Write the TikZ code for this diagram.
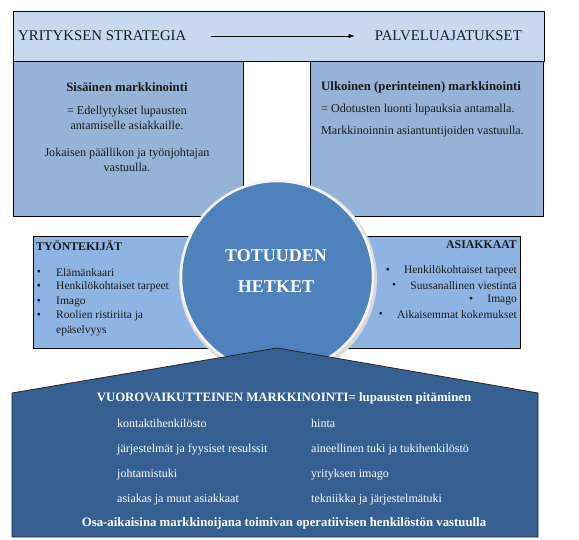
\documentclass[tikz,border=0pt]{standalone}
\usepackage{fontspec}
\setmainfont{Liberation Serif}
\usetikzlibrary{arrows.meta}
\definecolor{topfill}{HTML}{C6D9F1}
\definecolor{upfill}{HTML}{95B3D7}
\definecolor{midfill}{HTML}{8EB4E3}
\definecolor{circfill}{HTML}{4F81BD}
\definecolor{pentfill}{HTML}{366092}
\definecolor{inkc}{HTML}{1A1A1A}
\begin{document}
\begin{tikzpicture}[x=1pt,y=-1pt,
  box/.style={draw=black, line width=0.9pt},
  ttl/.style={font=\fontsize{14.8}{17}\selectfont, inner sep=0pt, text=inkc},
  utxt/.style={font=\fontsize{12.1}{15}\selectfont, inner sep=0pt, text=inkc},
  ubtxt/.style={utxt, font=\fontsize{12.8}{15}\selectfont\bfseries},
  txt/.style={font=\fontsize{11.5}{14.5}\selectfont, inner sep=0pt, text=inkc},
  btxt/.style={txt, font=\fontsize{11.8}{15}\selectfont\bfseries},
  wtxt/.style={font=\fontsize{12}{15}\selectfont, inner sep=0pt, text=white},
  bwtxt/.style={wtxt, font=\fontsize{12.8}{15}\selectfont\bfseries},
  ctxt/.style={font=\fontsize{18}{20}\selectfont\bfseries, inner sep=0pt, text=white},
  bul/.style={txt, anchor=center}
]
\useasboundingbox (0,0) rectangle (579,540);
\fill[white] (0,0) rectangle (579,540);

% top band
\draw[box, fill=topfill] (13,11) rectangle (544,61);
\node[ttl, anchor=west] (strat) at (18,36) {YRITYKSEN STRATEGIA};
\node[ttl, anchor=east] (palv) at (522,36) {PALVELUAJATUKSET};
\draw[line width=0.8pt, -{Latex[length=6pt,width=4.5pt]}] ([xshift=24pt]strat.east) -- ([xshift=-20pt]palv.west);

% upper boxes
\draw[box, fill=upfill] (13,61) rectangle (243,216);
\draw[box, fill=upfill] (310,61) rectangle (543,216);

\node[ubtxt] (sis) at (127,87) {Sisäinen markkinointi};
\node[utxt, align=center] (sis2) at (127,117.5) {= Edellytykset lupausten\\antamiselle asiakkaille.};
\node[utxt, align=center] (sis3) at (127,159.5) {Jokaisen päällikon ja työnjohtajan\\vastuulla.};

\node[ubtxt, anchor=west] (ulk) at (321,87) {Ulkoinen (perinteinen) markkinointi};
\node[utxt, anchor=west] (ulk2) at (321,109.5) {= Odotusten luonti lupauksia antamalla.};
\node[utxt, anchor=west] (ulk3) at (321,132) {Markkinoinnin asiantuntijoiden vastuulla.};

% middle band
\draw[box, fill=midfill] (33,236) rectangle (520,348);

\node[btxt, anchor=west] (tyo) at (36,246) {TYÖNTEKIJÄT};
\node[txt, anchor=west] (t1) at (56,272.5) {Elämänkaari};
\node[txt, anchor=west] (t2) at (56,287) {Henkilökohtaiset tarpeet};
\node[txt, anchor=west] (t3) at (56,301.5) {Imago};
\node[txt, anchor=west, align=left] (t4) at (56,323.5) {Roolien ristiriita ja\\epäselvyys};
\foreach \n/\yy in {b1/272.5, b2/287, b3/301.5, b4/316}
  \node[bul] (\n) at (39,\yy) {\textbullet};

\node[btxt, anchor=east] (asi) at (517,245) {ASIAKKAAT};
\node[txt, anchor=east] (a1) at (517,271) {Henkilökohtaiset tarpeet};
\node[txt, anchor=east] (a2) at (517,285.5) {Suusanallinen viestintä};
\node[txt, anchor=east] (a3) at (517,300) {Imago};
\node[txt, anchor=east] (a4) at (517,314.5) {Aikaisemmat kokemukset};
\foreach \a/\n in {a1/c1, a2/c2, a3/c3, a4/c4}
  \node[bul] (\n) at ([xshift=-16pt]\a.west) {\textbullet};

% circle
\fill[gray!30] (278,279) circle (99);
\draw[fill=circfill, draw=white!92!gray, line width=2.5pt] (277,277) circle (96);
\node[ctxt] (tot) at (276,256) {TOTUUDEN};
\node[ctxt] (het) at (276,287) {HETKET};

% pentagon
\draw[fill=pentfill, draw=black!85, line width=0.8pt] (12,393) -- (277,348) -- (538,393) -- (538,537) -- (12,537) -- cycle;
\node[bwtxt] (vuo) at (284,398.5) {VUOROVAIKUTTEINEN MARKKINOINTI= lupausten pitäminen};
\node[wtxt, anchor=west] (l1) at (117,423) {kontaktihenkilösto};
\node[wtxt, anchor=west] (l2) at (117,450) {järjestelmät ja fyysiset resulssit};
\node[wtxt, anchor=west] (l3) at (117,475) {johtamistuki};
\node[wtxt, anchor=west] (l4) at (117,500) {asiakas ja muut asiakkaat};
\node[wtxt, anchor=west] (r1) at (311,423) {hinta};
\node[wtxt, anchor=west] (r2) at (311,450) {aineellinen tuki ja tukihenkilöstö};
\node[wtxt, anchor=west] (r3) at (311,475) {yrityksen imago};
\node[wtxt, anchor=west] (r4) at (311,500) {tekniikka ja järjestelmätuki};
\node[bwtxt] (osa) at (284,523) {Osa-aikaisina markkinoijana toimivan operatiivisen henkilöstön vastuulla};
\end{tikzpicture}
\end{document}
